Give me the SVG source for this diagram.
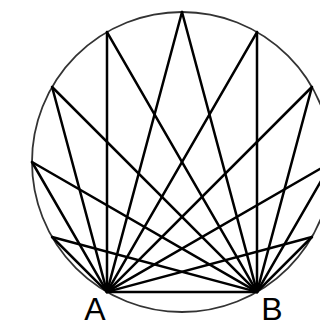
<svg xmlns="http://www.w3.org/2000/svg" width="320" height="321" viewBox="0 0 320 321">
<style>
.c{fill:none;stroke:#333;stroke-width:1.8}
.l{stroke:#000;stroke-width:2.5;fill:none;stroke-linecap:round}
.t{font-family:"Liberation Sans",Arial,sans-serif;font-size:32px;fill:#000;text-anchor:middle}
</style>
<rect width="320" height="321" fill="#fff"/>
<g id="circle"><circle class="c" cx="182" cy="162" r="150"/></g>
<g id="connectors">
<g id="from-A">
<line class="l" x1="107" y1="291.9" x2="332" y2="162"/>
<line class="l" x1="107" y1="291.9" x2="311.9" y2="87"/>
<line class="l" x1="107" y1="291.9" x2="257" y2="32.1"/>
<line class="l" x1="107" y1="291.9" x2="182" y2="12"/>
<line class="l" x1="107" y1="291.9" x2="107" y2="32.1"/>
<line class="l" x1="107" y1="291.9" x2="52.1" y2="87"/>
<line class="l" x1="107" y1="291.9" x2="32" y2="162"/>
<line class="l" x1="107" y1="291.9" x2="52.1" y2="237"/>
<line class="l" x1="107" y1="291.9" x2="311.9" y2="237"/>
<line class="l" x1="107" y1="291.9" x2="257" y2="291.9"/>
</g>
<g id="from-B">
<line class="l" x1="257" y1="291.9" x2="332" y2="162"/>
<line class="l" x1="257" y1="291.9" x2="311.9" y2="87"/>
<line class="l" x1="257" y1="291.9" x2="257" y2="32.1"/>
<line class="l" x1="257" y1="291.9" x2="182" y2="12"/>
<line class="l" x1="257" y1="291.9" x2="107" y2="32.1"/>
<line class="l" x1="257" y1="291.9" x2="52.1" y2="87"/>
<line class="l" x1="257" y1="291.9" x2="32" y2="162"/>
<line class="l" x1="257" y1="291.9" x2="52.1" y2="237"/>
<line class="l" x1="257" y1="291.9" x2="311.9" y2="237"/>
</g>
</g>
<g id="A"><text class="t" x="95" y="320">A</text></g>
<g id="B"><text class="t" x="272" y="320">B</text></g>
</svg>
